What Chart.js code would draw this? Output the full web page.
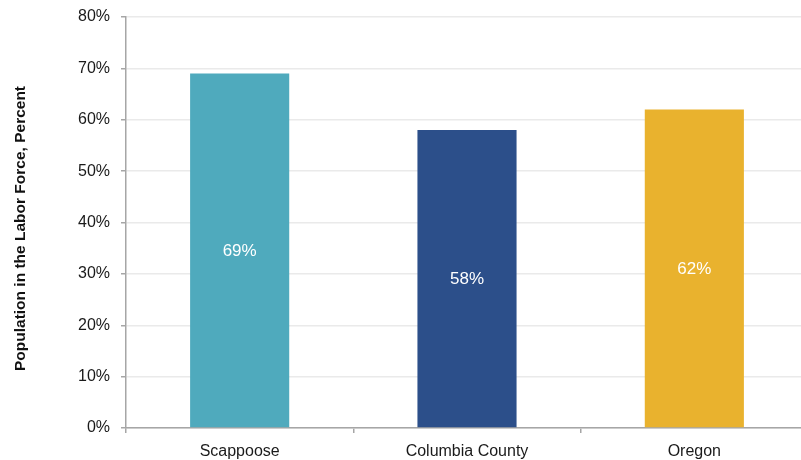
<!DOCTYPE html>
<html>
<head>
<meta charset="utf-8">
<script src="https://cdn.jsdelivr.net/npm/chart.js@4/dist/chart.umd.min.js"></script>
<style>
  html, body { margin: 0; padding: 0; background: #fff; overflow: hidden; }
  #wrap { width: 808px; height: 460px; }
</style>
</head>
<body>
<div id="wrap"><canvas id="c" width="808" height="460"></canvas></div>
<script>
const categories = ['Scappoose', 'Columbia County', 'Oregon'];
const laborForcePct = [69, 58, 62];
const barColors = ['#4FAABD', '#2C4F8A', '#E9B22E'];
const yTicks = [0, 10, 20, 30, 40, 50, 60, 70, 80];
const yTitle = 'Population in the Labor Force, Percent';

const FONT = '"Liberation Sans", Arial, sans-serif';

// White value labels centred inside each bar, plus the rotated axis title
const centerLabels = {
  id: 'centerLabels',
  afterDatasetsDraw(chart) {
    const ctx = chart.ctx;
    const meta = chart.getDatasetMeta(0);
    ctx.save();
    ctx.fillStyle = '#ffffff';
    ctx.font = '17px ' + FONT;
    ctx.textAlign = 'center';
    ctx.textBaseline = 'middle';
    meta.data.forEach((bar, i) => {
      const mid = (bar.y + bar.base) / 2;
      ctx.fillText(laborForcePct[i] + '%', bar.x, mid + 1);
    });
    ctx.restore();
  },
  afterDraw(chart) {
    const ctx = chart.ctx;
    const y = chart.scales.y;
    ctx.save();
    ctx.translate(21, (y.top + y.bottom) / 2 + 6);
    ctx.rotate(-Math.PI / 2);
    ctx.fillStyle = '#111';
    ctx.font = 'bold 15.5px ' + FONT;
    ctx.textAlign = 'center';
    ctx.textBaseline = 'middle';
    ctx.fillText(yTitle, 0, 0);
    ctx.restore();
  }
};

new Chart(document.getElementById('c'), {
  type: 'bar',
  data: {
    labels: categories,
    datasets: [{
      data: laborForcePct,
      backgroundColor: barColors,
      borderWidth: 0,
      barPercentage: 1,
      categoryPercentage: 0.436
    }]
  },
  options: {
    responsive: false,
    animation: false,
    events: [],
    layout: { padding: { top: 17, right: 0, left: 0, bottom: 0 } },
    plugins: { legend: { display: false }, tooltip: { enabled: false } },
    scales: {
      x: {
        offset: true,
        border: { color: '#A6A6A6', width: 1.5 },
        grid: { offset: true, drawOnChartArea: false, tickLength: 5, tickColor: '#A6A6A6', lineWidth: 1.5 },
        ticks: { color: '#1a1a1a', font: { family: FONT, size: 16 }, padding: 9 },
        afterFit(scale) { scale.height = 32; }
      },
      y: {
        min: 0, max: 80,
        afterBuildTicks(scale) { scale.ticks = yTicks.map(v => ({ value: v })); },
        border: { color: '#A6A6A6', width: 1.5 },
        grid: { color: '#EAEAEA', lineWidth: 1.5, tickLength: 5, tickColor: '#A6A6A6' },
        ticks: { color: '#1a1a1a', font: { family: FONT, size: 16 }, padding: 11,
                 callback: v => v + '%' },
        afterFit(scale) { scale.width = 126; scale.paddingTop = 0; scale.paddingBottom = 0; }
      }
    }
  },
  plugins: [centerLabels]
});
</script>
</body>
</html>
